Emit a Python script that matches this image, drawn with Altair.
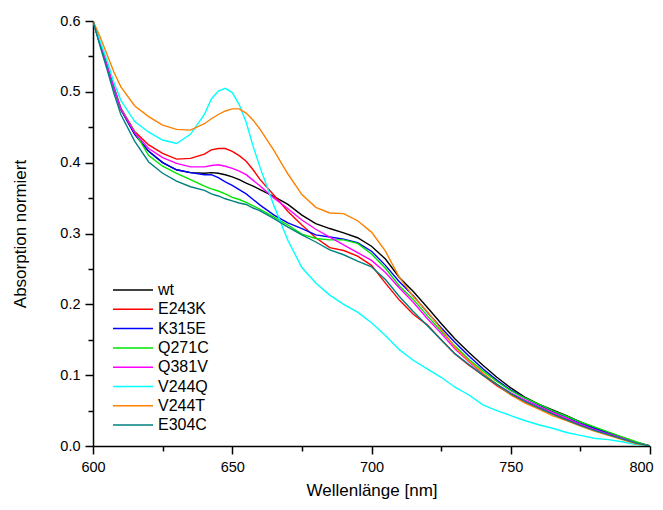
import altair as alt
import pandas as pd

wavelength = [600, 602.5, 605, 607.5, 610, 615, 620, 625, 630, 635, 640,
              642.5, 645, 647.5, 650, 652.5, 655, 657.5, 660,
              665, 670, 675, 680, 685, 690, 695, 700, 705, 710, 715, 720, 725, 730,
              735, 740, 745, 750, 755, 760, 765, 770, 775, 780, 785, 790, 795, 800]

wt = [0.600, 0.568, 0.537, 0.505, 0.475, 0.440, 0.416, 0.400, 0.390, 0.386, 0.385,
      0.386, 0.385, 0.383, 0.380, 0.376, 0.371, 0.367, 0.362,
      0.352, 0.341, 0.326, 0.314, 0.307, 0.301, 0.294, 0.282, 0.264, 0.238, 0.218, 0.196, 0.173, 0.151,
      0.132, 0.114, 0.097, 0.082, 0.069, 0.059, 0.051, 0.043, 0.034, 0.026, 0.019, 0.012, 0.005, 0.000]
e243k = [0.600, 0.569, 0.538, 0.507, 0.477, 0.444, 0.425, 0.413, 0.405, 0.406, 0.412,
         0.418, 0.420, 0.420, 0.416, 0.410, 0.402, 0.390, 0.376,
         0.354, 0.331, 0.312, 0.294, 0.280, 0.276, 0.268, 0.255, 0.230, 0.206, 0.186, 0.171, 0.150, 0.130,
         0.114, 0.100, 0.085, 0.073, 0.063, 0.054, 0.046, 0.038, 0.030, 0.023, 0.017, 0.010, 0.005, 0.000]
k315e = [0.600, 0.568, 0.537, 0.505, 0.475, 0.440, 0.416, 0.400, 0.390, 0.386, 0.383,
         0.383, 0.379, 0.373, 0.368, 0.362, 0.356, 0.348, 0.340,
         0.326, 0.315, 0.307, 0.298, 0.295, 0.292, 0.287, 0.275, 0.255, 0.232, 0.212, 0.189, 0.167, 0.146,
         0.127, 0.109, 0.093, 0.079, 0.068, 0.058, 0.049, 0.041, 0.032, 0.025, 0.018, 0.011, 0.005, 0.000]
q271c = [0.600, 0.568, 0.536, 0.505, 0.476, 0.443, 0.410, 0.395, 0.385, 0.376, 0.367,
         0.363, 0.360, 0.356, 0.351, 0.348, 0.344, 0.339, 0.334,
         0.323, 0.312, 0.299, 0.293, 0.291, 0.291, 0.286, 0.271, 0.251, 0.226, 0.207, 0.184, 0.162, 0.141,
         0.122, 0.106, 0.091, 0.078, 0.068, 0.059, 0.050, 0.042, 0.034, 0.027, 0.020, 0.013, 0.006, 0.000]
q381v = [0.600, 0.568, 0.537, 0.506, 0.476, 0.442, 0.420, 0.407, 0.399, 0.394, 0.394,
         0.396, 0.397, 0.395, 0.392, 0.388, 0.383, 0.375, 0.367,
         0.350, 0.335, 0.319, 0.306, 0.295, 0.284, 0.273, 0.262, 0.245, 0.223, 0.203, 0.180, 0.159, 0.137,
         0.119, 0.102, 0.087, 0.075, 0.065, 0.056, 0.047, 0.039, 0.031, 0.023, 0.017, 0.011, 0.004, 0.000]
v244q = [0.600, 0.572, 0.545, 0.513, 0.488, 0.458, 0.443, 0.432, 0.427, 0.440, 0.468,
         0.490, 0.501, 0.505, 0.499, 0.482, 0.457, 0.423, 0.393,
         0.339, 0.290, 0.252, 0.230, 0.213, 0.200, 0.189, 0.174, 0.156, 0.136, 0.121, 0.109, 0.097, 0.083,
         0.072, 0.058, 0.050, 0.043, 0.036, 0.030, 0.025, 0.019, 0.015, 0.011, 0.009, 0.006, 0.002, 0.000]
v244t = [0.600, 0.578, 0.553, 0.528, 0.507, 0.480, 0.465, 0.453, 0.447, 0.446, 0.455,
         0.462, 0.468, 0.473, 0.476, 0.476, 0.470, 0.460, 0.447,
         0.417, 0.384, 0.355, 0.337, 0.329, 0.328, 0.318, 0.302, 0.275, 0.238, 0.211, 0.190, 0.165, 0.139,
         0.120, 0.103, 0.087, 0.072, 0.061, 0.052, 0.043, 0.036, 0.028, 0.021, 0.015, 0.009, 0.003, 0.000]
e304c = [0.600, 0.565, 0.532, 0.498, 0.468, 0.430, 0.401, 0.385, 0.374, 0.366, 0.361,
         0.356, 0.353, 0.349, 0.346, 0.343, 0.341, 0.336, 0.332,
         0.321, 0.309, 0.298, 0.288, 0.277, 0.270, 0.261, 0.253, 0.235, 0.211, 0.190, 0.170, 0.150, 0.130,
         0.115, 0.100, 0.087, 0.074, 0.063, 0.054, 0.045, 0.037, 0.029, 0.022, 0.016, 0.010, 0.004, 0.000]

series_names = ["wt", "E243K", "K315E", "Q271C", "Q381V", "V244Q", "V244T", "E304C"]
series_values = [wt, e243k, k315e, q271c, q381v, v244q, v244t, e304c]
series_colors = ["#000000", "#FF0000", "#0000FF", "#00E600", "#FF00FF", "#00FFFF", "#FF8000", "#008080"]

x_ticks = [600, 625, 650, 675, 700, 725, 750, 775, 800]
y_ticks = [0.0, 0.05, 0.1, 0.15, 0.2, 0.25, 0.3, 0.35, 0.4, 0.45, 0.5, 0.55, 0.6]

rows = []
for i, (name, vals) in enumerate(zip(series_names, series_values)):
    for wl, v in zip(wavelength, vals):
        rows.append({"wl": wl, "val": v, "series": name, "order": i})
df = pd.DataFrame(rows)

FONT = "Liberation Sans"

chart = alt.Chart(df).mark_line(strokeWidth=1.4, clip=True).encode(
    x=alt.X("wl:Q",
            scale=alt.Scale(domain=[600, 800], nice=False, zero=False),
            axis=alt.Axis(values=x_ticks, title="Wellenlänge [nm]",
                          labelExpr="datum.value % 50 === 0 ? datum.label : ''",
                          tickSize={"condition": {"test": "datum.value % 50 === 0", "value": 8}, "value": 5},
                          labelOffset={"condition": {"test": "datum.value === 800", "value": -9}, "value": 0},
                          labelFlush=False, labelOverlap=False,
                          labelPadding=6, titlePadding=9)),
    y=alt.Y("val:Q",
            scale=alt.Scale(domain=[0, 0.6], nice=False),
            axis=alt.Axis(values=y_ticks, title="Absorption normiert",
                          labelExpr="round(datum.value*100) % 10 === 0 ? format(datum.value, '.1f') : ''",
                          tickSize={"condition": {"test": "round(datum.value*100) % 10 === 0", "value": 8}, "value": 5},
                          labelFlush=False, labelOverlap=False,
                          labelPadding=5, titlePadding=30)),
    color=alt.Color("series:N",
                    scale=alt.Scale(domain=series_names, range=series_colors),
                    legend=alt.Legend(title=None, orient="none", legendX=29, legendY=258,
                                      symbolType="M-2,0L2,0", symbolSize=400, symbolStrokeWidth=1.5,
                                      labelFontSize=16, labelFont=FONT, labelOffset=14,
                                      rowPadding=0.3)),
    order=alt.Order("order:Q"),
    detail="series:N",
).properties(
    width=557, height=425,
    padding={"left": 85, "top": 13, "right": 5, "bottom": 56},
    autosize=alt.AutoSizeParams(type="none"),
).configure_view(stroke=None).configure_axis(
    grid=False, domainColor="black", domainWidth=1.5, tickColor="black", tickWidth=1.5,
    labelFont=FONT, labelFontSize=14.5, labelColor="black",
    titleFont=FONT, titleFontSize=17, titleFontWeight="normal", titleColor="black",
)

chart.save("out.html", embed_options={"renderer": "svg", "actions": False})
